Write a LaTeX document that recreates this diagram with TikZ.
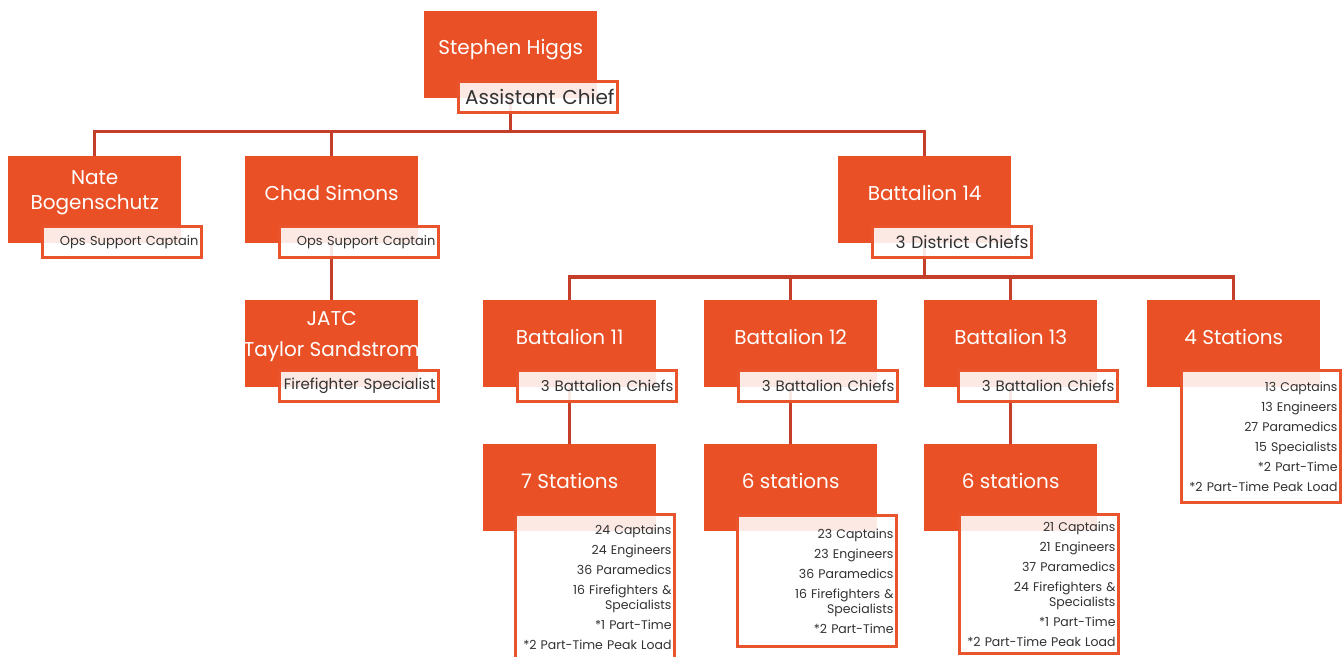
\documentclass[tikz,border=0pt]{standalone}
\usepackage{fontspec}
\setmainfont{Poppins}
\usetikzlibrary{positioning,calc,backgrounds}
\definecolor{orgfill}{RGB}{233,80,37}
\definecolor{orgline}{RGB}{234,84,44}
\definecolor{connline}{RGB}{196,62,42}
\definecolor{roletext}{RGB}{50,50,50}
\tikzset{
  obox/.style={fill=orgfill, minimum width=173pt, minimum height=87pt, inner sep=0pt, anchor=north west},
  otext/.style={text=white, align=center, font=\fontsize{20}{25}\selectfont, inner sep=0pt},
  rbox/.style={draw=orgline, line width=3pt, fill=white, fill opacity=0.88, text opacity=1,
    text=roletext, minimum width=159pt, minimum height=31pt, anchor=north west,
    align=right, text width=153pt, inner xsep=3pt, inner ysep=0pt},
  lbox/.style={rbox, font=\fontsize{12.5}{15}\selectfont},
  conn/.style={draw=connline, line width=3.5pt},
}

\begin{document}
\begin{tikzpicture}[x=1pt,y=-1pt]
    \useasboundingbox (0,0) rectangle (1344,656);

    % Top
    \node [obox] (higgs) at (424,11) {};
    \node [otext] (higgsT) at ([yshift=-39pt]higgs.north) {Stephen Higgs};
    \node [rbox, font=\fontsize{20}{22}\selectfont] (higgsR) at ([shift={(33pt,18.5pt)}]higgs.south west) {Assistant Chief};

    % Second row
    \node [obox] (nate) at (8,156) {};
    \node [otext] (nateT) at ([yshift=-37pt]nate.north) {Nate\\Bogenschutz};
    \node [rbox, font=\fontsize{13}{15}\selectfont] (nateR) at ([shift={(33pt,18.5pt)}]nate.south west) {Ops Support Captain};

    \node [obox] (chad) at (245,156) {};
    \node [otext] (chadT) at ([yshift=-37pt]chad.north) {Chad Simons};
    \node [rbox, font=\fontsize{13}{15}\selectfont] (chadR) at ([shift={(33pt,18.5pt)}]chad.south west) {Ops Support Captain};

    \node [obox] (b14) at (838,156) {};
    \node [otext] (b14T) at ([yshift=-37pt]b14.north) {Battalion 14};
    \node [rbox, font=\fontsize{17}{20}\selectfont] (b14R) at ([shift={(33pt,18.5pt)}]b14.south west) {3 District Chiefs};

    % Third row
    \node [obox] (jatc) at (245,300) {};
    \node [otext] (jatcT) at ([yshift=-37pt]jatc.north) {JATC\\[6pt]Taylor Sandstrom};
    \node [rbox, font=\fontsize{15}{17}\selectfont] (jatcR) at ([shift={(33pt,18.5pt)}]jatc.south west) {Firefighter Specialist};

    \node [obox] (b11) at (483,300) {};
    \node [otext] (b11T) at ([yshift=-37pt]b11.north) {Battalion 11};
    \node [rbox, font=\fontsize{15}{17}\selectfont] (b11R) at ([shift={(33pt,18.5pt)}]b11.south west) {3 Battalion Chiefs};

    \node [obox] (b12) at (704,300) {};
    \node [otext] (b12T) at ([yshift=-37pt]b12.north) {Battalion 12};
    \node [rbox, font=\fontsize{15}{17}\selectfont] (b12R) at ([shift={(33pt,18.5pt)}]b12.south west) {3 Battalion Chiefs};

    \node [obox] (b13) at (924,300) {};
    \node [otext] (b13T) at ([yshift=-37pt]b13.north) {Battalion 13};
    \node [rbox, font=\fontsize{15}{17}\selectfont] (b13R) at ([shift={(33pt,18.5pt)}]b13.south west) {3 Battalion Chiefs};

    \node [obox] (st4) at (1147,300) {};
    \node [otext] (st4T) at ([yshift=-37pt]st4.north) {4 Stations};
    \node [lbox, minimum height=132pt] (st4R) at ([shift={(33pt,18.5pt)}]st4.south west)
        {13 Captains\\[5pt]13 Engineers\\[5pt]27 Paramedics\\[5pt]15 Specialists\\[5pt]*2 Part-Time\\[5pt]*2 Part-Time Peak Load};

    % Stations
    \node [obox] (st11) at (483,444) {};
    \node [otext] (st11T) at ([yshift=-37pt]st11.north) {7 Stations};
    \node [lbox, minimum height=146pt] (st11R) at ([shift={(31pt,18.5pt)}]st11.south west)
        {24 Captains\\[5pt]24 Engineers\\[5pt]36 Paramedics\\[5pt]16 Firefighters \&\\Specialists\\[5pt]*1 Part-Time\\[5pt]*2 Part-Time Peak Load};

    \node [obox] (st12) at (704,444) {};
    \node [otext] (st12T) at ([yshift=-37pt]st12.north) {6 stations};
    \node [lbox, minimum height=131pt] (st12R) at ([shift={(32pt,17.5pt)}]st12.south west)
        {23 Captains\\[5pt]23 Engineers\\[5pt]36 Paramedics\\[5pt]16 Firefighters \&\\Specialists\\[5pt]*2 Part-Time};

    \node [obox] (st13) at (924,444) {};
    \node [otext] (st13T) at ([yshift=-37pt]st13.north) {6 stations};
    \node [lbox, minimum height=139pt] (st13R) at ([shift={(34pt,18.5pt)}]st13.south west)
        {21 Captains\\[5pt]21 Engineers\\[5pt]37 Paramedics\\[5pt]24 Firefighters \&\\Specialists\\[5pt]*1 Part-Time\\[5pt]*2 Part-Time Peak Load};

    % Connectors
    \coordinate (busA) at (0,131.5);
    \coordinate (busB) at (0,277);
    \begin{scope}[on background layer]
        \draw [conn] (higgs.south) -- (higgs.south |- busA);
        \foreach \n in {nate,chad,b14}
            \draw [conn] (higgs.south |- busA) -| (\n.north);
        \draw [conn] (chad.south) -- (jatc.north);
        \draw [conn] (b14.south) -- (b14.south |- busB);
        \foreach \n in {b11,b12,b13,st4}
            \draw [conn] (b14.south |- busB) -| (\n.north);
        \foreach \a/\b in {b11/st11,b12/st12,b13/st13}
            \draw [conn] (\a.south) -- (\b.north);
    \end{scope}
\end{tikzpicture}
\end{document}
